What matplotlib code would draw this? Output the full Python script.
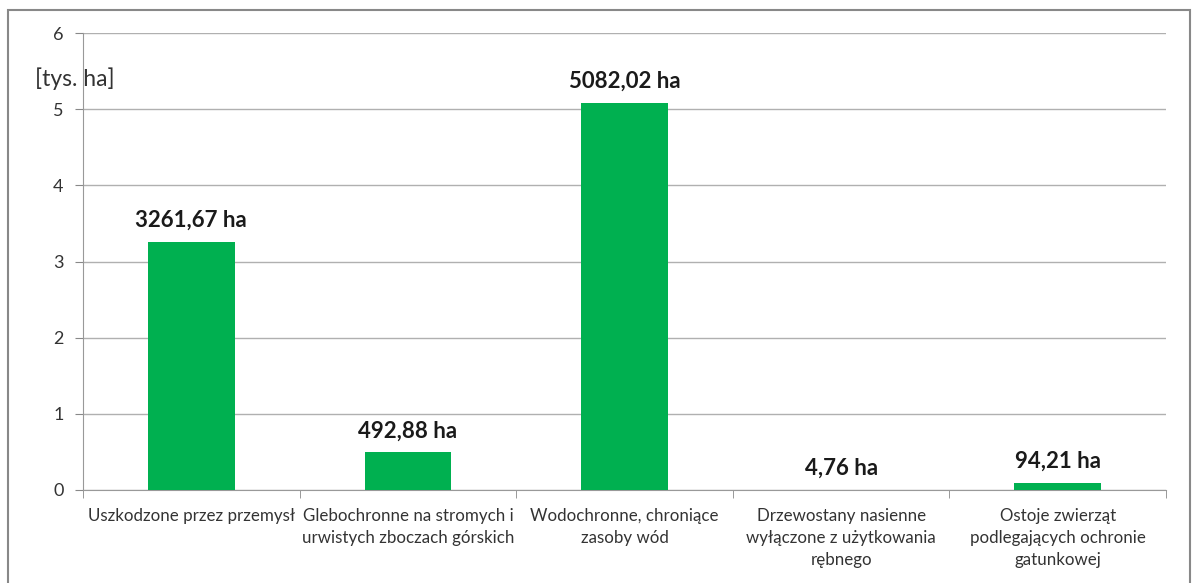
import numpy as np
import matplotlib.pyplot as plt
from matplotlib.patches import Rectangle

# data
categories = ['Uszkodzone przez przemysł',
              'Glebochronne na stromych i\nurwistych zboczach górskich',
              'Wodochronne, chroniące\nzasoby wód',
              'Drzewostany nasienne\nwyłączone z użytkowania\nrębnego',
              'Ostoje zwierząt\npodlegających ochronie\ngatunkowej']
area_ha = [3261.67, 492.88, 5082.02, 4.76, 94.21]
bar_labels = ['3261,67 ha', '492,88 ha', '5082,02 ha', '4,76 ha', '94,21 ha']

plt.rcParams['font.family'] = ['Lato', 'DejaVu Sans']

fig = plt.figure(figsize=(11.97, 5.83), dpi=100)
ax = fig.add_axes([83/1197, 1 - 490/583, (1166-83)/1197, (490-33)/583])

vals = np.array(area_ha) / 1000.0
x = np.arange(len(categories))
ax.bar(x, vals, width=0.4, color='#00b050', zorder=3)

for xi, v, lab in zip(x, vals, bar_labels):
    ax.annotate(lab, (xi, v), xytext=(0, 8), textcoords='offset points',
                ha='center', va='bottom', fontsize=16, fontweight='bold',
                color='#1a1a1a')

ax.set_xlim(-0.5, len(categories) - 0.5)
ax.set_ylim(0, 6)
ax.set_yticks(range(0, 7))
ax.tick_params(axis='y', length=6, color='#888888', labelsize=13,
               labelcolor='#333333', pad=8)
ax.set_xticks(x)
ax.set_xticklabels(categories, fontsize=12.2, color='#333333', linespacing=1.45)
ax.tick_params(axis='x', length=0, pad=13)
ax.set_xticks(np.arange(len(categories) + 1) - 0.5, minor=True)
ax.tick_params(axis='x', which='minor', length=6, color='#888888')

ax.grid(axis='y', color='#b0b0b0', linewidth=1, zorder=0)
for s in ['top', 'right']:
    ax.spines[s].set_visible(False)
for s in ['left', 'bottom']:
    ax.spines[s].set_color('#999999')

ax.text(-0.72, 5.4, '[tys. ha]', fontsize=16.5, color='#333333',
        ha='left', va='center', clip_on=False)

fig.patches.append(Rectangle((8/1197, -0.05), (1190-8)/1197, 1.05 - 10/583,
                             transform=fig.transFigure, fill=False,
                             edgecolor='#888888', linewidth=1.5))

fig.savefig('out.png', dpi=100)
